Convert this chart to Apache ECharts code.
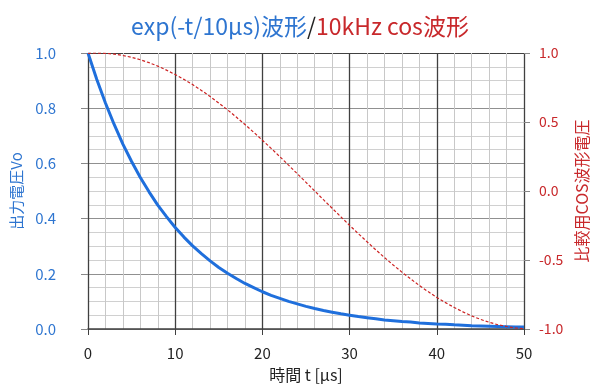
<!DOCTYPE html>
<html><head><meta charset="utf-8">
<script src="https://cdn.jsdelivr.net/npm/echarts@6/dist/echarts.min.js"></script>
<style>html,body{margin:0;padding:0;background:#fff}#c{width:600px;height:390px}</style>
</head><body><div id="c"></div>
<script>
// time axis, μs
const tValues = [0,1,2,3,4,5,6,7,8,9,10,11,12,13,14,15,16,17,18,19,20,21,22,23,24,25,26,27,28,29,30,31,32,33,34,35,36,37,38,39,40,41,42,43,44,45,46,47,48,49,50];
// exp(-t/10μs) waveform (left axis)
const expValues = [1.000,0.905,0.819,0.741,0.670,0.607,0.549,0.497,0.449,0.407,0.368,0.333,0.301,0.273,0.247,0.223,0.202,0.183,0.165,0.150,0.135,0.122,0.111,0.100,0.091,0.082,0.074,0.067,0.061,0.055,0.050,0.045,0.041,0.037,0.033,0.030,0.027,0.025,0.022,0.020,0.018,0.017,0.015,0.014,0.012,0.011,0.010,0.009,0.008,0.007,0.007];
// 10kHz cos comparison waveform (right axis)
const cosValues = [0.998,1.000,0.998,0.992,0.982,0.969,0.951,0.930,0.905,0.876,0.844,0.809,0.771,0.729,0.685,0.637,0.588,0.536,0.482,0.426,0.368,0.309,0.249,0.187,0.125,0.063,0.000,-0.063,-0.125,-0.187,-0.249,-0.309,-0.368,-0.426,-0.482,-0.536,-0.588,-0.637,-0.685,-0.729,-0.771,-0.809,-0.844,-0.876,-0.905,-0.930,-0.951,-0.969,-0.982,-0.992,-0.998];

const FONT = '"Noto Sans CJK JP", "Noto Sans", sans-serif';
const BLUE = '#2e75d0';
const RED = '#c8282b';

const chart = echarts.init(document.getElementById('c'), null, {renderer:'canvas'});
chart.setOption({
  animation: false,
  backgroundColor: '#fff',
  textStyle: {fontFamily: FONT},
  title: {
    text: '{a|exp(-t/10μs)波形}{b|/}{c|10kHz cos波形}',
    left: 'center', top: 10,
    textStyle: {
      rich: {
        a: {color: BLUE, fontSize: 23, fontWeight: 'normal', fontFamily: FONT},
        b: {color: '#222', fontSize: 23, fontWeight: 'normal', fontFamily: FONT},
        c: {color: RED, fontSize: 23, fontWeight: 'normal', fontFamily: FONT}
      }
    }
  },
  grid: {left: 88, right: 76, top: 53, bottom: 61},
  xAxis: {
    type: 'value', min: 0, max: 50, interval: 10,
    name: '時間 t [μs]', nameLocation: 'middle', nameGap: 38,
    nameTextStyle: {color: '#222', fontSize: 16, fontFamily: FONT},
    axisLine: {show: true, lineStyle: {color: '#404040', width: 1.5}},
    axisTick: {show: true, length: 6, lineStyle: {color: '#404040'}},
    axisLabel: {color: '#222', fontSize: 15, margin: 17, fontFamily: FONT},
    splitLine: {show: true, lineStyle: {color: '#404040', width: 1.3}},
    minorTick: {show: true, splitNumber: 5, length: 0},
    minorSplitLine: {show: true, lineStyle: {color: '#c8c8c8', width: 1}}
  },
  yAxis: [{
    type: 'value', min: 0, max: 1, interval: 0.2,
    name: '出力電圧Vo', nameLocation: 'middle', nameGap: 61,
    nameTextStyle: {color: BLUE, fontSize: 15, fontFamily: FONT},
    axisLine: {show: false},
    axisTick: {show: true, length: 7, lineStyle: {color: '#888'}},
    axisLabel: {color: BLUE, fontSize: 15, margin: 32, fontFamily: FONT,
      formatter: v => v.toFixed(1)},
    splitLine: {show: true, lineStyle: {color: ['#909090','#909090','#909090','#909090','#909090','#404040'], width: 1.2}},
    minorTick: {show: true, splitNumber: 4, length: 0},
    minorSplitLine: {show: true, lineStyle: {color: '#d0d0d0', width: 1}}
  }, {
    type: 'value', min: -1, max: 1, interval: 0.5, position: 'right',
    name: '比較用COS波形電圧', nameLocation: 'middle', nameGap: 47,
    nameTextStyle: {color: RED, fontSize: 16, fontFamily: FONT},
    axisLine: {show: false},
    axisTick: {show: true, length: 6, lineStyle: {color: '#888'}},
    axisLabel: {color: RED, fontSize: 14, margin: 15, fontFamily: FONT,
      formatter: v => v.toFixed(1)},
    splitLine: {show: false}
  }],
  series: [{
    type: 'line', yAxisIndex: 0, showSymbol: false, smooth: false,
    data: tValues.map((t, i) => [t, expValues[i]]),
    lineStyle: {color: '#1f6fdc', width: 3},
    z: 3
  }, {
    type: 'line', yAxisIndex: 1, showSymbol: false, smooth: false,
    data: tValues.map((t, i) => [t, cosValues[i]]),
    lineStyle: {color: '#cc2222', width: 1.2, type: [3, 2]},
    z: 4
  }]
});
</script></body></html>
